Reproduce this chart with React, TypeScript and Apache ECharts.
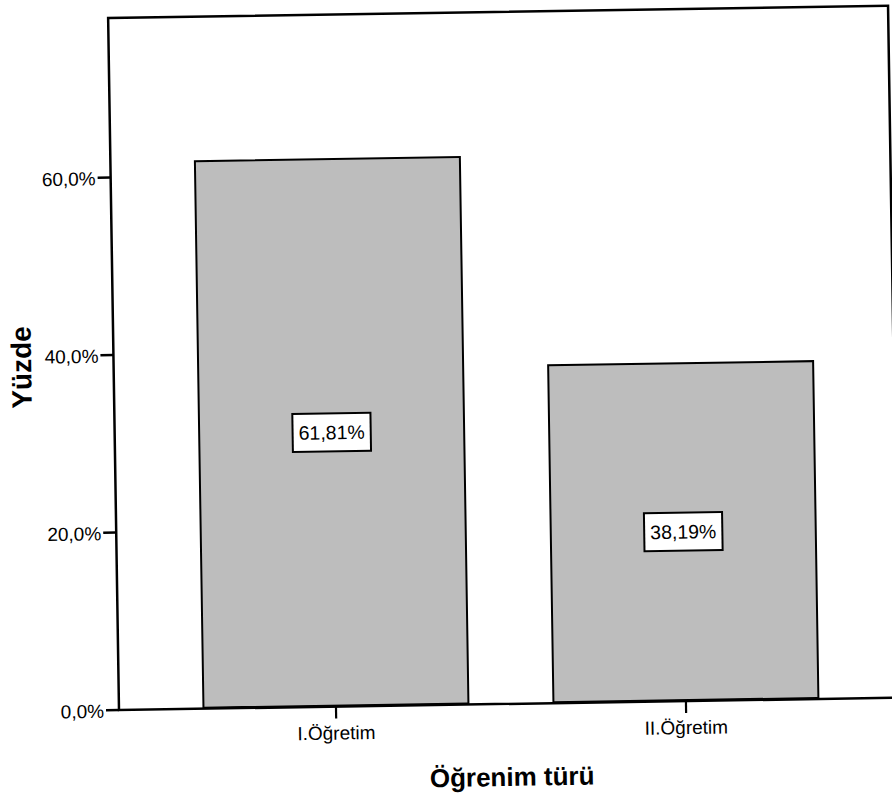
import React, { useEffect, useRef } from "react";
import * as echarts from "echarts";

const categories = ["I.Öğretim", "II.Öğretim"];
const values = [61.81, 38.19];
const yTicks = [0, 20, 40, 60];
const xTitle = "Öğrenim türü";
const yTitle = "Yüzde";

const fmt = (v: number, d: number) => v.toFixed(d).replace(".", ",") + "%";

const W = 910;
const H = 802;
const AXIS_X = 119;
const AXIS_Y = 710;
const PX_PER = 8.875;
const FONT = "Liberation Sans, Arial, sans-serif";

export default function App() {
  const ref = useRef<HTMLDivElement>(null);
  useEffect(() => {
    if (!ref.current) return;
    const chart = echarts.init(ref.current, undefined, { renderer: "svg" });
    chart.setOption({
      animation: false,
      backgroundColor: "#ffffff",
      textStyle: { fontFamily: FONT },
      grid: { left: 161, right: W - 861, top: 0, bottom: H - AXIS_Y, containLabel: false },
      xAxis: {
        type: "category",
        data: categories,
        axisLine: { show: false },
        axisTick: { show: true, alignWithLabel: true, length: 12, lineStyle: { color: "#000", width: 2.2 } },
        axisLabel: { color: "#000", fontSize: 19, margin: 17 },
        splitLine: { show: false },
      },
      yAxis: {
        type: "value",
        min: 0,
        max: 80,
        interval: 20,
        axisLine: { show: false },
        axisTick: { show: false },
        axisLabel: { show: false },
        splitLine: { show: false },
      },
      graphic: [
        {
          type: "rect",
          shape: { x: AXIS_X, y: 18, width: 780, height: AXIS_Y - 18 },
          style: { fill: "none", stroke: "#000", lineWidth: 2.5 },
          z: 10,
        },
        ...yTicks.map((t) => {
          const y = AXIS_Y - t * PX_PER;
          return {
            type: "group",
            z: 10,
            children: [
              { type: "line", shape: { x1: AXIS_X - 13, y1: y, x2: AXIS_X, y2: y }, style: { stroke: "#000", lineWidth: 2.5 } },
              {
                type: "text",
                x: AXIS_X - 15,
                y: y + 1,
                style: { text: fmt(t, 1), fill: "#000", fontSize: 19, align: "right", verticalAlign: "middle", fontFamily: FONT },
              },
            ],
          };
        }),
        {
          type: "text",
          x: 27,
          y: 366,
          rotation: Math.PI / 2,
          style: { text: yTitle, fill: "#000", fontSize: 28, fontWeight: "bold", align: "center", verticalAlign: "middle", fontFamily: FONT },
        },
        {
          type: "text",
          x: 511,
          y: 783,
          style: { text: xTitle, fill: "#000", fontSize: 26, fontWeight: "bold", align: "center", verticalAlign: "middle", fontFamily: FONT },
        },
      ],
      series: [
        {
          type: "bar",
          data: values,
          barWidth: 267,
          itemStyle: { color: "#bdbdbd", borderColor: "#000", borderWidth: 2 },
          label: {
            show: true,
            position: "inside",
            formatter: (p: any) => fmt(p.value, 2),
            color: "#000",
            fontSize: 19.5,
            fontFamily: FONT,
            backgroundColor: "#fff",
            borderColor: "#000",
            borderWidth: 2,
            padding: [9, 5, 7, 5],
          },
        },
      ],
    });
    return () => chart.dispose();
  }, []);
  return (
    <div style={{ position: "absolute", left: 0, top: 0, width: 892, height: 802, overflow: "hidden", background: "#fff" }}>
      <div
        ref={ref}
        style={{
          position: "absolute",
          left: 0,
          top: 0,
          width: W,
          height: H,
          transformOrigin: `${AXIS_X}px ${AXIS_Y}px`,
          transform: "rotate(-0.9deg)",
        }}
      />
    </div>
  );
}
